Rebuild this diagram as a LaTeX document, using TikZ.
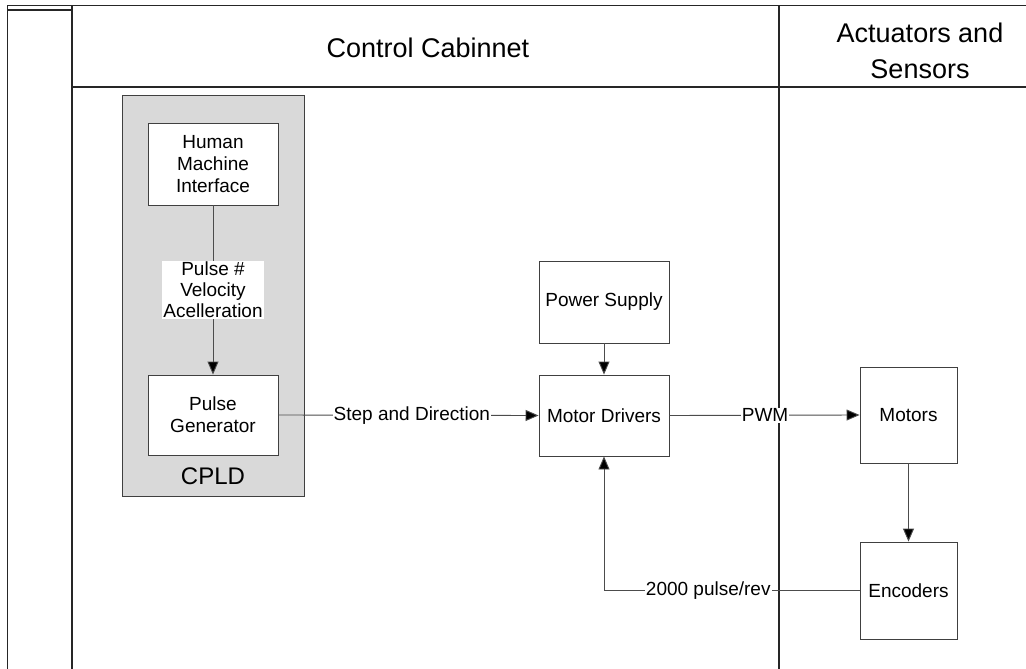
\documentclass[tikz,border=0pt]{standalone}
\usepackage{fontspec}
\setmainfont{Liberation Sans}
\usetikzlibrary{arrows.meta}
\definecolor{cpldgray}{RGB}{217,217,217}
\begin{document}
\begin{tikzpicture}[x=1pt,y=-1pt,
  box/.style={draw=black!75, line width=0.9pt, fill=white, inner sep=0pt, align=center,
    font=\fontsize{19}{22}\selectfont},
  lbl/.style={fill=white, inner sep=1pt, align=center, font=\fontsize{19}{21}\selectfont},
  conn/.style={draw=black!70, line width=0.9pt},
  arr/.style={conn, -{Triangle[length=13pt,width=11pt,fill=black]}},
  tbl/.style={draw=black!85, line width=1.2pt},
  hdr/.style={font=\fontsize{27}{36}\selectfont, align=center}
]
\useasboundingbox (0,0) rectangle (1026,669);
% table
\draw[tbl] (7.5,5.5) -- (1026,5.5);
\draw[tbl] (7.5,10) -- (72,10);
\draw[tbl] (7.5,5.5) -- (7.5,669);
\draw[tbl] (72,5.5) -- (72,669);
\draw[tbl] (72,87) -- (1026,87);
\draw[tbl] (779,5.5) -- (779,669);
\node[hdr] (hcab) at (428,48) {Control Cabinnet};
\node[hdr] (hact) at (920,51) {Actuators and\\Sensors};
% CPLD container
\node[draw=black!75, line width=0.9pt, fill=cpldgray, minimum width=182pt, minimum height=401pt, inner sep=0pt] (cpld) at (213,295.5) {};
\node[font=\fontsize{24}{28}\selectfont] (cpldt) at (213,476) {CPLD};
% boxes
\node[box, minimum width=130pt, minimum height=82pt] (hmi) at (213,164) {Human\\Machine\\Interface};
\node[box, minimum width=130pt, minimum height=80pt] (pg) at (213,415) {Pulse\\Generator};
\node[box, minimum width=130pt, minimum height=82pt] (ps) at (604,302) {Power Supply};
\node[box, minimum width=130pt, minimum height=81pt] (md) at (604,415.5) {Motor Drivers};
\node[box, minimum width=97pt, minimum height=96pt] (mot) at (908.5,415) {Motors};
\node[box, minimum width=97pt, minimum height=97pt] (enc) at (908.5,590.5) {Encoders};
% connectors
\draw[arr] (hmi.south) -- node[lbl] (l1) {Pulse \#\\Velocity\\Acelleration} (pg.north);
\draw[arr] (pg.east) -- node[lbl, pos=0.513] (l2) {Step and Direction} (md.west);
\draw[arr] (ps.south) -- (md.north);
\draw[arr] (md.east) -- node[lbl, pos=0.503] (l3) {PWM} (mot.west);
\draw[arr] (mot.south) -- (enc.north);
\draw[arr] (enc.west) -| node[lbl, pos=0.296] (l4) {2000 pulse/rev} (md.south);
\end{tikzpicture}
\end{document}
